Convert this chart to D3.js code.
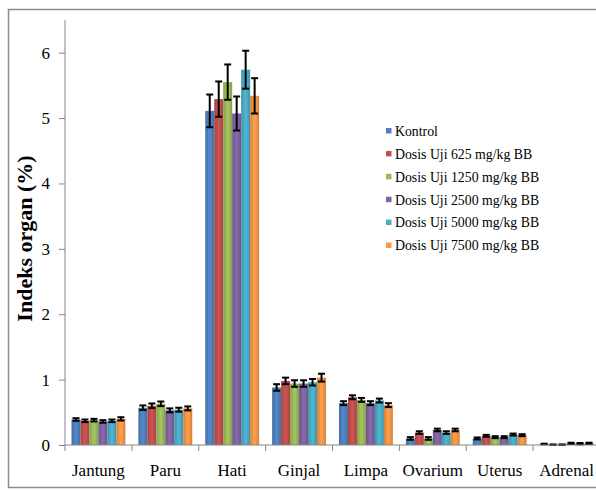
<!DOCTYPE html>
<html>
<head>
<meta charset="utf-8">
<script src="https://cdn.jsdelivr.net/npm/d3@7/dist/d3.min.js"></script>
<style>
  html, body { margin: 0; padding: 0; background: #fff; }
  svg { display: block; }
  text { font-family: "Liberation Serif", "Times New Roman", serif; fill: #000; }
</style>
</head>
<body>
<svg id="chart" width="596" height="491"></svg>
<script>
// Organ index (%) per organ and dose group
const organs = ["Jantung", "Paru", "Hati", "Ginjal", "Limpa", "Ovarium", "Uterus", "Adrenal"];
const groups = ["Kontrol", "Dosis Uji 625 mg/kg BB", "Dosis Uji 1250 mg/kg BB",
                "Dosis Uji 2500 mg/kg BB", "Dosis Uji 5000 mg/kg BB", "Dosis Uji 7500 mg/kg BB"];
const groupColors = ["#4F81BD", "#C0504D", "#9BBB59", "#8064A2", "#4BACC6", "#F79646"];
const yTicks = [0, 1, 2, 3, 4, 5, 6];

// mean values, one array per organ, in group order
const jantung = [0.39, 0.37, 0.38, 0.36, 0.37, 0.40];
const paru    = [0.57, 0.60, 0.63, 0.53, 0.54, 0.56];
const hati    = [5.11, 5.29, 5.55, 5.07, 5.74, 5.34];
const ginjal  = [0.88, 0.98, 0.94, 0.94, 0.96, 1.03];
const limpa   = [0.64, 0.73, 0.69, 0.64, 0.68, 0.61];
const ovarium = [0.10, 0.19, 0.10, 0.23, 0.19, 0.23];
const uterus  = [0.10, 0.14, 0.12, 0.12, 0.16, 0.15];
const adrenal = [0.015, 0.005, 0.005, 0.025, 0.02, 0.025];

// standard deviations
const jantungSd = [0.02, 0.02, 0.02, 0.02, 0.02, 0.025];
const paruSd    = [0.035, 0.035, 0.035, 0.03, 0.03, 0.03];
const hatiSd    = [0.25, 0.27, 0.27, 0.26, 0.29, 0.27];
const ginjalSd  = [0.05, 0.05, 0.05, 0.05, 0.05, 0.06];
const limpaSd   = [0.03, 0.03, 0.03, 0.03, 0.03, 0.03];
const ovariumSd = [0.02, 0.02, 0.02, 0.02, 0.02, 0.02];
const uterusSd  = [0.015, 0.015, 0.015, 0.015, 0.015, 0.015];
const adrenalSd = [0.005, 0.003, 0.003, 0.01, 0.01, 0.01];

const means = [jantung, paru, hati, ginjal, limpa, ovarium, uterus, adrenal];
const sds = [jantungSd, paruSd, hatiSd, ginjalSd, limpaSd, ovariumSd, uterusSd, adrenalSd];

const svg = d3.select("#chart");

// outer frame
svg.append("rect")
  .attr("x", 8.5).attr("y", 9.5)
  .attr("width", 620).attr("height", 478)
  .attr("fill", "none").attr("stroke", "#8c8c8c").attr("stroke-width", 1.5);

const plotLeft = 65, plotRight = 600, plotTop = 20, plotBottom = 445;

const y = d3.scaleLinear().domain([0, 6.5]).range([plotBottom, plotTop]);
const x0 = d3.scaleBand().domain(organs).range([plotLeft, plotRight]).padding(0);
const inset = 6.5;
const x1 = d3.scaleBand().domain(groups).range([inset, x0.bandwidth() - inset]).padding(0);
const color = d3.scaleOrdinal().domain(groups).range(groupColors);

// horizontal shading gradients for the bars
const defs = svg.append("defs");
groups.forEach((g, i) => {
  const base = d3.color(groupColors[i]);
  const grad = defs.append("linearGradient")
    .attr("id", "grad" + i)
    .attr("x1", "0%").attr("x2", "100%").attr("y1", "0%").attr("y2", "0%");
  grad.append("stop").attr("offset", "0%").attr("stop-color", base.darker(0.45));
  grad.append("stop").attr("offset", "45%").attr("stop-color", base.brighter(0.15));
  grad.append("stop").attr("offset", "55%").attr("stop-color", base.brighter(0.15));
  grad.append("stop").attr("offset", "100%").attr("stop-color", base.darker(0.45));
});

const rows = [];
organs.forEach((o, oi) => {
  groups.forEach((g, gi) => {
    rows.push({ organ: o, group: g, gi: gi, value: means[oi][gi], sd: sds[oi][gi] });
  });
});

// bars
svg.append("g").selectAll("rect")
  .data(rows)
  .join("rect")
  .attr("x", d => x0(d.organ) + x1(d.group))
  .attr("y", d => y(d.value))
  .attr("width", x1.bandwidth())
  .attr("height", d => y(0) - y(d.value))
  .attr("fill", d => "url(#grad" + d.gi + ")");

// error bars
const capHalf = 3.5;
const eb = svg.append("g").attr("stroke", "#000").attr("stroke-width", 2);
rows.forEach(d => {
  const cx = x0(d.organ) + x1(d.group) + x1.bandwidth() / 2;
  const y1 = y(d.value + d.sd), y2 = y(Math.max(0, d.value - d.sd));
  eb.append("line").attr("x1", cx).attr("x2", cx).attr("y1", y1).attr("y2", y2);
  eb.append("line").attr("x1", cx - capHalf).attr("x2", cx + capHalf).attr("y1", y1).attr("y2", y1);
  eb.append("line").attr("x1", cx - capHalf).attr("x2", cx + capHalf).attr("y1", y2).attr("y2", y2);
});

// y axis
const yAxis = d3.axisLeft(y).tickValues(yTicks).tickFormat(d3.format("d")).tickSize(6).tickPadding(9);
const gy = svg.append("g").attr("transform", `translate(${plotLeft},0)`).call(yAxis);
gy.select(".domain").attr("stroke", "#868686").attr("d", `M0,${plotTop}V${plotBottom}`);
gy.selectAll(".tick line").attr("stroke", "#868686");
gy.selectAll(".tick text").attr("font-size", 17).attr("font-family", "Liberation Serif");

// x axis: line along zero with ticks at category boundaries
const gx = svg.append("g");
gx.append("line").attr("x1", plotLeft).attr("x2", plotRight).attr("y1", plotBottom).attr("y2", plotBottom)
  .attr("stroke", "#868686");
gx.selectAll("line.bound")
  .data(organs.concat(["end"]))
  .join("line")
  .attr("class", "bound")
  .attr("x1", (d, i) => plotLeft + i * x0.step())
  .attr("x2", (d, i) => plotLeft + i * x0.step())
  .attr("y1", plotBottom).attr("y2", plotBottom + 6)
  .attr("stroke", "#868686");
gx.selectAll("text")
  .data(organs)
  .join("text")
  .attr("x", d => x0(d) + x0.bandwidth() / 2)
  .attr("y", plotBottom + 31)
  .attr("text-anchor", "middle")
  .attr("font-size", 17)
  .text(d => d);

// y axis title, centred on the plot area
svg.append("text")
  .attr("transform", `translate(32,${(plotTop + plotBottom) / 2 + 6}) rotate(-90)`)
  .attr("text-anchor", "middle")
  .attr("font-size", 22)
  .attr("font-weight", "bold")
  .text("Indeks organ  (%)");

// legend
const legend = svg.append("g").attr("transform", "translate(386,131)");
const lg = legend.selectAll("g").data(groups).join("g")
  .attr("transform", (d, i) => `translate(0,${i * 22.9})`);
lg.append("rect").attr("x", 0).attr("y", -3).attr("width", 5.5).attr("height", 5.5)
  .attr("fill", d => color(d));
lg.append("text").attr("x", 9).attr("y", 0).attr("dy", "0.35em")
  .attr("font-size", 13.8).text(d => d);
</script>
</body>
</html>
